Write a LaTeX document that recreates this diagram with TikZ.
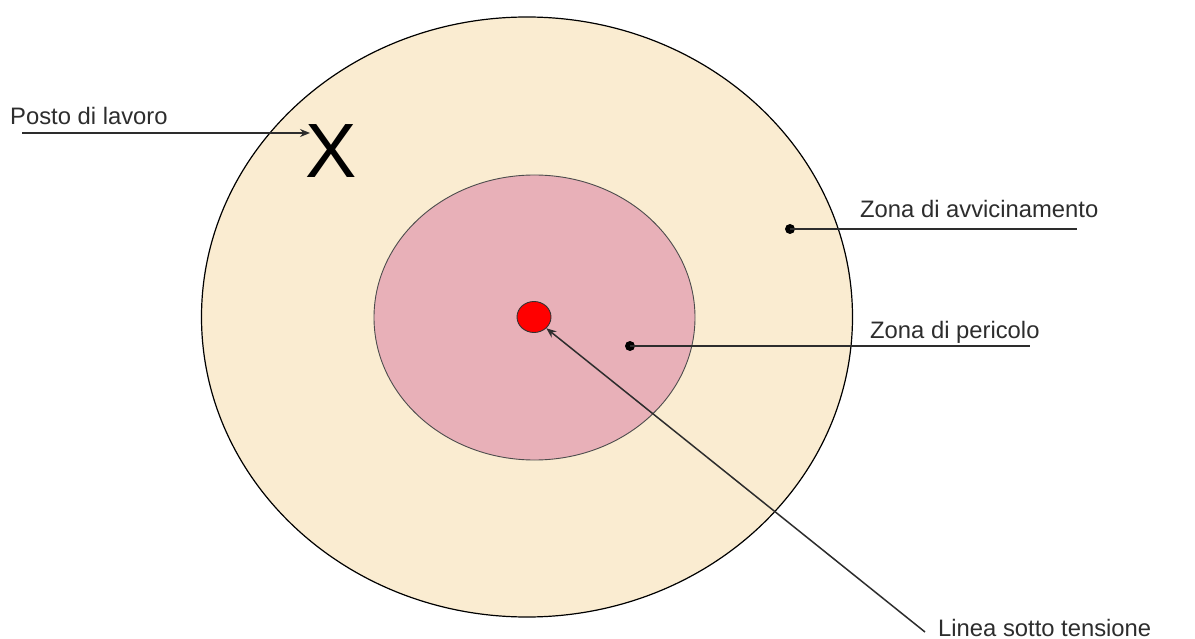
\documentclass[tikz,border=0pt]{standalone}
\usepackage{fontspec}
\setmainfont{Liberation Sans}
\usetikzlibrary{arrows.meta,shapes.geometric}
\definecolor{beige}{RGB}{250,236,209}
\definecolor{rosa}{RGB}{232,176,184}
\definecolor{testo}{RGB}{45,45,45}
\tikzset{
  lbl/.style={anchor=base west, inner sep=0pt, text=testo, font=\fontsize{23.8}{28}\selectfont},
  leader/.style={draw=testo, line width=1.5pt},
  arr/.style={leader, -{Stealth[length=10pt,width=8pt]}},
}
\begin{document}
\begin{tikzpicture}[x=1pt,y=-1pt]
\useasboundingbox (0,0) rectangle (1195,639);
\fill[white] (0,0) rectangle (1195,639);
% zones
\draw[fill=beige, line width=1.2pt] (527,317) ellipse [x radius=325.5, y radius=300];
\draw[fill=rosa, line width=0.9pt, draw=black!70] (534.5,317.5) ellipse [x radius=160.5, y radius=142.5];
\node[ellipse, minimum width=34pt, minimum height=31pt, inner sep=0pt, fill=red, draw=black!80, line width=0.9pt] (linea) at (534,317) {};
% labels
\node[lbl] (posto) at (10,125) {Posto di lavoro};
\node[anchor=center, inner sep=0pt, font=\fontsize{77}{80}\selectfont] (X) at (331,151) {X};
\node[lbl] (avv) at (860,218) {Zona di avvicinamento};
\node[lbl] (per) at (870,338) {Zona di pericolo};
\node[lbl] (lin) at (938,636) {Linea sotto tensione};
% leaders
\coordinate (pA) at (22,133);
\coordinate (pB) at (310,133);
\draw[arr] (pA) -- (pB);
\coordinate (aD) at (790,229);
\coordinate (aE) at (1077,229);
\fill[black] (aD) circle (5);
\draw[leader] (aD) -- (aE);
\coordinate (zD) at (630,346);
\coordinate (zE) at (1030,346);
\fill[black] (zD) circle (5);
\draw[leader] (zD) -- (zE);
\coordinate (lS) at (925,632);
\draw[arr] (lS) -- (linea.south east);
\end{tikzpicture}
\end{document}
